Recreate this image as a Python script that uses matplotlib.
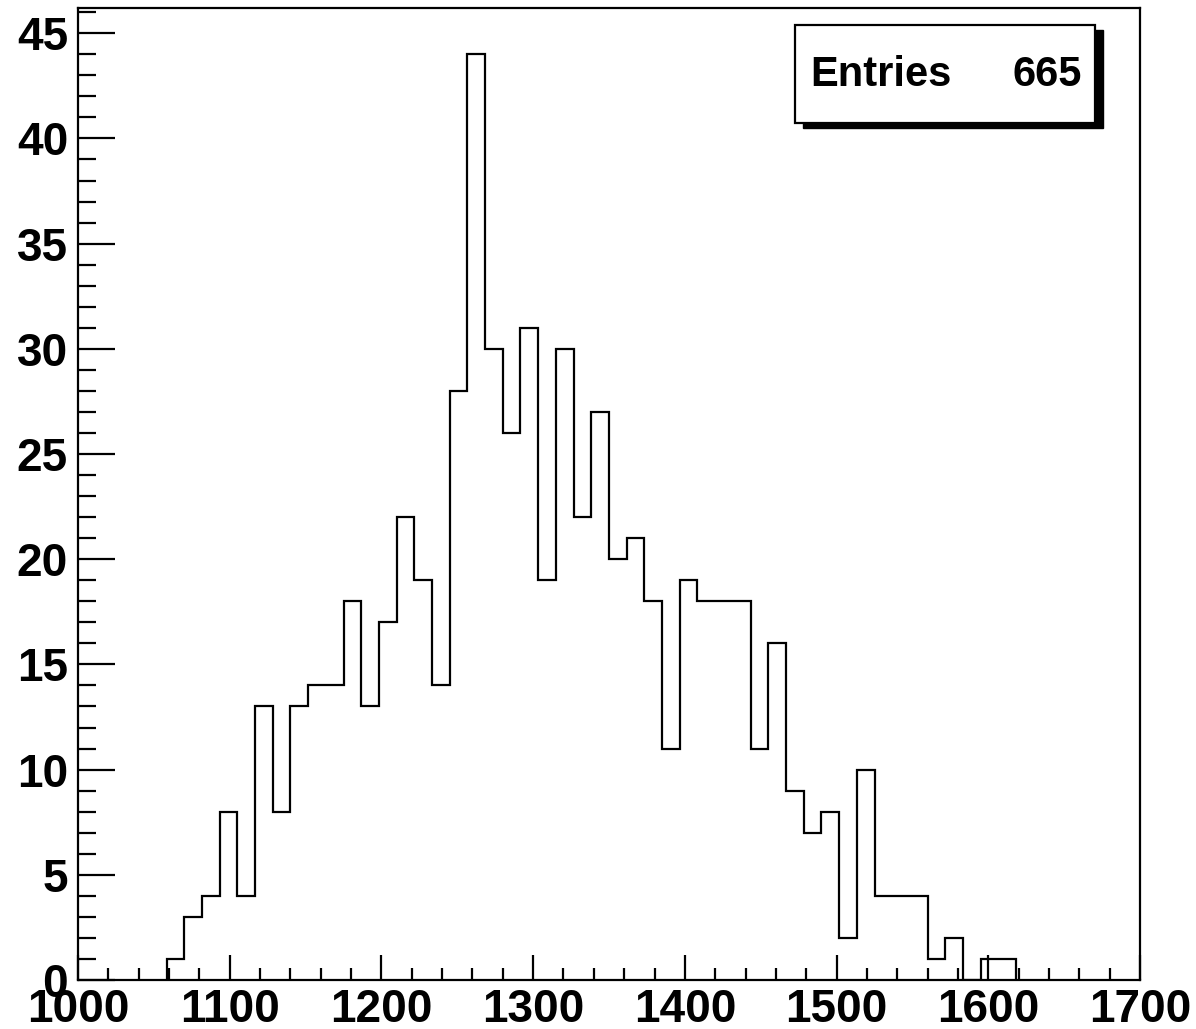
import numpy as np
import matplotlib
matplotlib.use("Agg")
import matplotlib.pyplot as plt
from matplotlib.patches import Rectangle
from matplotlib.ticker import MultipleLocator

plt.rcParams["font.family"] = ["Liberation Sans", "DejaVu Sans"]
plt.rcParams["font.weight"] = "bold"

# 60 bins between 1000 and 1700, filled bins run from index 5 to 52
xmin, xmax, nbins = 1000, 1700, 60
first_bin = 5
counts = [1, 3, 4, 8, 4, 13, 8, 13, 14, 14,
          18, 13, 17, 22, 19, 14, 28, 44, 30, 26,
          31, 19, 30, 22, 27, 20, 21, 18, 11, 19,
          18, 18, 18, 11, 16, 9, 7, 8, 2, 10,
          4, 4, 4, 1, 2, 0, 1, 1]
entries = 665

edges = np.linspace(xmin, xmax, nbins + 1)
used_edges = edges[first_bin:first_bin + len(counts) + 1]

W, H = 1196, 1029
PX = 72 / 100  # points per pixel at dpi 100
fig = plt.figure(figsize=(W / 100, H / 100), dpi=100)
ax = fig.add_axes([78 / W, 1 - 980 / H, (1140 - 78) / W, (980 - 8) / H])

ax.stairs(counts, used_edges, color="black", linewidth=1.6, baseline=0)

ax.set_xlim(xmin, xmax)
ax.set_ylim(0, 46.2)

ax.xaxis.set_major_locator(MultipleLocator(100))
ax.xaxis.set_minor_locator(MultipleLocator(20))
ax.yaxis.set_major_locator(MultipleLocator(5))
ax.yaxis.set_minor_locator(MultipleLocator(1))

ax.tick_params(axis="both", which="both", direction="in", width=1.6,
               top=False, right=False, labelsize=33)
ax.tick_params(axis="x", which="major", length=25 * PX, pad=8 * PX)
ax.tick_params(axis="x", which="minor", length=12 * PX)
ax.tick_params(axis="y", which="major", length=37 * PX, pad=10 * PX)
ax.tick_params(axis="y", which="minor", length=18 * PX)
for lab in ax.get_xticklabels() + ax.get_yticklabels():
    lab.set_fontweight("bold")

for sp in ax.spines.values():
    sp.set_linewidth(1.6)

# stats box with drop shadow
bx0, bx1, by0, by1 = 795, 1095, 25, 123
fig.patches.append(Rectangle(((bx0 + 8) / W, 1 - (by1 + 5) / H),
                             (bx1 - bx0) / W, (by1 - by0) / H,
                             transform=fig.transFigure, facecolor="black",
                             edgecolor="black", zorder=5))
fig.patches.append(Rectangle((bx0 / W, 1 - by1 / H),
                             (bx1 - bx0) / W, (by1 - by0) / H,
                             transform=fig.transFigure, facecolor="white",
                             edgecolor="black", linewidth=1.6, zorder=6))
fig.text(810 / W, 1 - 75 / H, "Entries", fontsize=30, fontweight="bold",
         ha="left", va="center", zorder=7)
fig.text(1082 / W, 1 - 75 / H, str(entries), fontsize=30, fontweight="bold",
         ha="right", va="center", zorder=7)

fig.savefig("out.png", dpi=100)
